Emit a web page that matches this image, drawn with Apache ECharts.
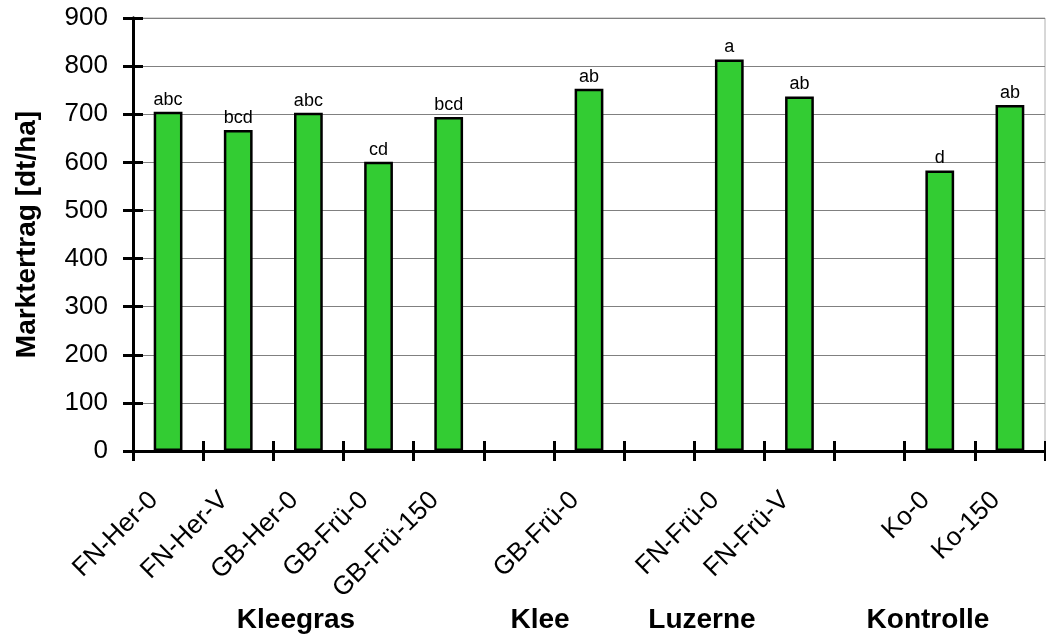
<!DOCTYPE html>
<html>
<head>
<meta charset="utf-8">
<script src="https://cdn.jsdelivr.net/npm/echarts@6/dist/echarts.min.js"></script>
<style>html,body{margin:0;padding:0;background:#fff}#c{width:1046px;height:639px}</style>
</head>
<body>
<div id="c"></div>
<script>
const categories = ["FN-Her-0", "FN-Her-V", "GB-Her-0", "GB-Frü-0", "GB-Frü-150", "", "GB-Frü-0", "", "FN-Frü-0", "FN-Frü-V", "", "Ko-0", "Ko-150"];
const values = [705, 667, 703, 601, 694, null, 753, null, 814, 737, null, 583, 719];
const letters = ["abc", "bcd", "abc", "cd", "bcd", "", "ab", "", "a", "ab", "", "d", "ab"];
const groups = ["Kleegras", "Klee", "Luzerne", "Kontrolle"];
const groupX = [296, 540, 702, 928];
const yTicks = {min: 0, max: 900, interval: 100};

const font = '"Liberation Sans", Arial, sans-serif';
const chart = echarts.init(document.getElementById('c'), null, {renderer: 'canvas'});

const baseX = {
  type: 'category',
  data: categories,
  boundaryGap: true,
  axisLine: {show: true, lineStyle: {color: '#000', width: 3}},
  axisTick: {show: true, length: 10, inside: false, interval: 0, lineStyle: {color: '#000', width: 3}},
  splitLine: {show: false}
};
const baseY = {
  type: 'value',
  min: yTicks.min, max: yTicks.max, interval: yTicks.interval,
  axisLine: {show: true, lineStyle: {color: '#000', width: 3}},
  axisTick: {show: true, length: 10, inside: false, lineStyle: {color: '#000', width: 3}}
};

chart.setOption({
  animation: false,
  backgroundColor: '#fff',
  grid: {left: 133, right: 1, top: 18, bottom: 188, show: true, borderColor: '#b0b0b0', borderWidth: 1},
  xAxis: [
    Object.assign({}, baseX, {
      axisLabel: {interval: 0, rotate: 45, margin: 31, padding: [0, 20, 0, 0], fontSize: 26, color: '#000', fontFamily: font}
    }),
    Object.assign({}, baseX, {
      position: 'bottom',
      axisTick: {show: true, length: 10, inside: true, interval: 0, lineStyle: {color: '#000', width: 3}},
      axisLabel: {show: false}
    })
  ],
  yAxis: [
    Object.assign({}, baseY, {
      name: 'Marktertrag [dt/ha]',
      nameLocation: 'middle',
      nameGap: 92,
      nameTextStyle: {fontSize: 28, fontWeight: 'bold', color: '#000', fontFamily: font},
      axisLabel: {fontSize: 26, color: '#000', margin: 25, fontFamily: font},
      splitLine: {show: true, lineStyle: {color: '#808080', width: 1}}
    }),
    Object.assign({}, baseY, {
      position: 'left',
      axisTick: {show: true, length: 10, inside: true, lineStyle: {color: '#000', width: 3}},
      axisLabel: {show: false},
      splitLine: {show: false}
    })
  ],
  series: [{
    type: 'bar',
    xAxisIndex: 0,
    yAxisIndex: 0,
    data: values.map(v => v === null ? '-' : v),
    barWidth: '41%',
    itemStyle: {color: '#33CC33', borderColor: '#000', borderWidth: 2.5},
    label: {
      show: true,
      position: 'top',
      distance: 3,
      fontSize: 18,
      color: '#000',
      fontFamily: font,
      formatter: p => letters[p.dataIndex]
    },
    z: 3
  }],
  graphic: groups.map((g, i) => ({
    type: 'text',
    x: groupX[i],
    y: 620,
    style: {text: g, font: 'bold 28px ' + font, fill: '#000', textAlign: 'center', textVerticalAlign: 'middle'}
  }))
});
</script>
</body>
</html>
